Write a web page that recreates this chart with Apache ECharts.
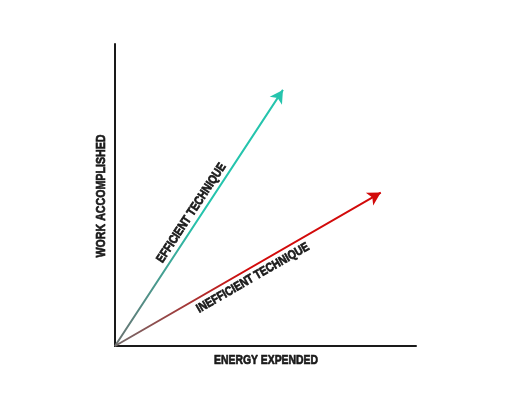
<!DOCTYPE html>
<html><head><meta charset="utf-8">
<script src="https://cdn.jsdelivr.net/npm/echarts@6/dist/echarts.min.js"></script>
<style>html,body{margin:0;padding:0;background:#fff}#c{width:512px;height:393px}</style>
</head><body><div id="c"></div>
<script>
const xAxisTitle = 'ENERGY EXPENDED';
const yAxisTitle = 'WORK ACCOMPLISHED';
const seriesNames = ['EFFICIENT TECHNIQUE', 'INEFFICIENT TECHNIQUE'];
const efficientX = [0, 55.8];
const efficientY = [0, 84.8];
const inefficientX = [0, 88.3];
const inefficientY = [0, 50.8];
const colors = ['#25c4ad', '#d20a0a'];
const startColor = '#6e6e6e';

const chart = echarts.init(document.getElementById('c'));
const font = '"Liberation Sans", Arial, sans-serif';
function grad(c){
  return new echarts.graphic.LinearGradient(0,1,1,0,[{offset:0,color:startColor},{offset:0.5,color:c},{offset:1,color:c}]);
}
function mk(xs, ys){ return xs.map((x,i)=>[x, ys[i]]); }
const option = {
  animation:false,
  grid:{left:115, top:44, width:301, height:302},
  xAxis:{type:'value', min:0, max:100, splitLine:{show:false}, axisTick:{show:false}, axisLabel:{show:false},
    axisLine:{lineStyle:{color:'#1a1a1a', width:2}}},
  yAxis:{type:'value', min:0, max:100, splitLine:{show:false}, axisTick:{show:false}, axisLabel:{show:false},
    axisLine:{lineStyle:{color:'#1a1a1a', width:2}}},
  series:[
    {type:'line', name:seriesNames[0], data:mk(efficientX, efficientY), lineStyle:{width:2, color:grad(colors[0])},
     symbol:'none'},
    {type:'line', name:seriesNames[1], data:mk(inefficientX, inefficientY), lineStyle:{width:2, color:grad(colors[1])},
     symbol:'none'}
  ]
};
chart.setOption(option);

const ctx = document.createElement('canvas').getContext('2d');
function textW(t, size){ ctx.font = 'bold ' + size + 'px ' + font; return ctx.measureText(t).width; }

function angleOf(xs, ys){
  const p0 = chart.convertToPixel({gridIndex:0}, [xs[0], ys[0]]);
  const p1 = chart.convertToPixel({gridIndex:0}, [xs[1], ys[1]]);
  return {p0, p1, a: Math.atan2(p0[1]-p1[1], p1[0]-p0[0])};
}
const e = angleOf(efficientX, efficientY);
const n = angleOf(inefficientX, inefficientY);
const deg = r => r*180/Math.PI;
function arrowData(xs, ys, info){
  return xs.map((x,i)=> i===xs.length-1 ? {value:[x, ys[i]], symbol:'arrow', symbolSize:[11,13], symbolRotate: deg(info.a)-90} : {value:[x, ys[i]], symbol:'none'});
}
function along(info, t, off){
  const x = info.p0[0] + (info.p1[0]-info.p0[0])*t - Math.sin(info.a)*off;
  const y = info.p0[1] + (info.p1[1]-info.p0[1])*t - Math.cos(info.a)*off;
  return [x,y];
}
function label(text, pos, rot, size, targetW){
  return {type:'text', x:pos[0], y:pos[1], rotation:rot, scaleX: targetW / textW(text, size),
    style:{text:text, fontFamily:font, fontWeight:'bold', fontSize:size, fill:'#1a1a1a', stroke:'#1a1a1a', lineWidth:0.7, align:'center', verticalAlign:'middle'}};
}
const origin = chart.convertToPixel({gridIndex:0}, [0, 0]);
const far = chart.convertToPixel({gridIndex:0}, [100, 100]);
const le = along(e, 0.5, 9);
const ln = along(n, 0.5, -10);
chart.setOption({
  series:[
    {data:arrowData(efficientX, efficientY, e), showSymbol:true, itemStyle:{color:colors[0]}},
    {data:arrowData(inefficientX, inefficientY, n), showSymbol:true, itemStyle:{color:colors[1]}}
  ],
  graphic:[
    label(seriesNames[0], le, e.a, 12.5, 116),
    label(seriesNames[1], ln, n.a, 12.5, 128),
    label(xAxisTitle, [(origin[0]+far[0])/2 + 0.5, origin[1] + 14], 0, 13.5, 104),
    label(yAxisTitle, [origin[0] - 14, (origin[1]+far[1])/2 + 1], Math.PI/2, 13.5, 123)
  ]
});
</script></body></html>
